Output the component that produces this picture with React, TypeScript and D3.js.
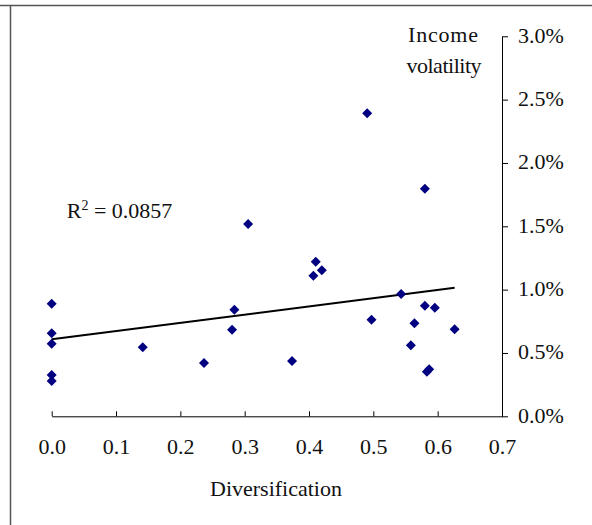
import React, { useEffect, useRef } from 'react';
import * as d3 from 'd3';

// diversification (x) and income volatility (y, in %)
const divers = [0, 0, 0, 0, 0, 0.1415, 0.2368, 0.284, 0.2804, 0.3053, 0.3736, 0.4068, 0.4105, 0.4199, 0.4904, 0.4971, 0.5432, 0.5639, 0.5583, 0.5801, 0.5956, 0.5801, 0.5868, 0.5832, 0.6264];
const volatility = [0.889, 0.655, 0.573, 0.326, 0.279, 0.545, 0.421, 0.842, 0.684, 1.518, 0.437, 1.11, 1.221, 1.153, 2.392, 0.763, 0.966, 0.734, 0.561, 0.873, 0.857, 1.797, 0.371, 0.352, 0.687];

// linear trend shown in the chart
const trendX = [0, 0.6264];
const trendY = [0.608, 1.015];

const xTicks = [0, 0.1, 0.2, 0.3, 0.4, 0.5, 0.6, 0.7];
const yTicks = [0, 0.005, 0.01, 0.015, 0.02, 0.025, 0.03];

const FONT = '"Liberation Serif", "Times New Roman", serif';

const App = () => {
    const ref = useRef<SVGSVGElement>(null);

    useEffect(() => {
        const svg = d3.select(ref.current);
        svg.selectAll('*').remove();

        const xScale = d3.scaleLinear().domain([0, 0.7]).range([51.7, 502]);
        const yScale = d3.scaleLinear().domain([0, 0.03]).range([416.3, 36.3]);

        // frame lines
        svg.append('line')
            .attr('x1', 0).attr('x2', 592).attr('y1', 5.5).attr('y2', 5.5)
            .attr('stroke', '#555').attr('stroke-width', 1.5);
        svg.append('line')
            .attr('x1', 10.5).attr('x2', 10.5).attr('y1', 5.5).attr('y2', 525)
            .attr('stroke', '#555').attr('stroke-width', 1.5);

        const xAxis = d3.axisBottom(xScale)
            .tickValues(xTicks)
            .tickSizeInner(-5)
            .tickSizeOuter(0)
            .tickFormat(d3.format('.1f'));

        const gx = svg.append('g')
            .attr('transform', `translate(0, ${yScale(0)})`)
            .call(xAxis);
        gx.selectAll('text')
            .attr('y', 38).attr('dy', 0)
            .attr('fill', '#111')
            .style('font-family', FONT).style('font-size', '22px');

        const yAxis = d3.axisRight(yScale)
            .tickValues(yTicks)
            .tickSizeInner(6)
            .tickSizeOuter(0)
            .tickFormat(d3.format('.1%'));

        const gy = svg.append('g')
            .attr('transform', `translate(${xScale(0.7)}, 0)`)
            .call(yAxis);
        gy.selectAll('text')
            .attr('x', 16).attr('dy', '0.26em')
            .attr('fill', '#111')
            .style('font-family', FONT).style('font-size', '22px');

        svg.selectAll('.domain').attr('stroke', '#000');
        svg.selectAll('.tick line').attr('stroke', '#000');

        // trend line
        svg.append('line')
            .attr('x1', xScale(trendX[0])).attr('y1', yScale(trendY[0] / 100))
            .attr('x2', xScale(trendX[1])).attr('y2', yScale(trendY[1] / 100))
            .attr('stroke', '#000').attr('stroke-width', 2);

        // points
        const diamond = d3.symbol().type(d3.symbolSquare).size(50);
        svg.selectAll('.dot')
            .data(divers.map((d, i) => [d, volatility[i]]))
            .enter()
            .append('path')
            .classed('dot', true)
            .attr('d', diamond())
            .attr('transform', d => `translate(${xScale(d[0])}, ${yScale(d[1] / 100)}) rotate(45)`)
            .attr('fill', '#000080');

        const label = svg.append('g')
            .style('font-family', FONT).style('font-size', '22px').attr('fill', '#111');

        label.append('text').attr('x', 443).attr('y', 41.7).attr('text-anchor', 'middle')
            .attr('textLength', 70).text('Income');
        label.append('text').attr('x', 444).attr('y', 73.3).attr('text-anchor', 'middle')
            .attr('textLength', 75).text('volatility');
        label.append('text').attr('x', 276).attr('y', 495.7).attr('text-anchor', 'middle').text('Diversification');

        const r2 = label.append('text').attr('x', 66.7).attr('y', 218.3);
        r2.append('tspan').text('R');
        r2.append('tspan').attr('dy', -8).style('font-size', '14px').text('2');
        r2.append('tspan').attr('dy', 8).text(' = 0.0857');
    }, []);

    return (
        <svg ref={ref} width={592} height={525} style={{ position: 'absolute', left: 0, top: 0, background: '#fff' }}></svg>
    );
};

export default App;
